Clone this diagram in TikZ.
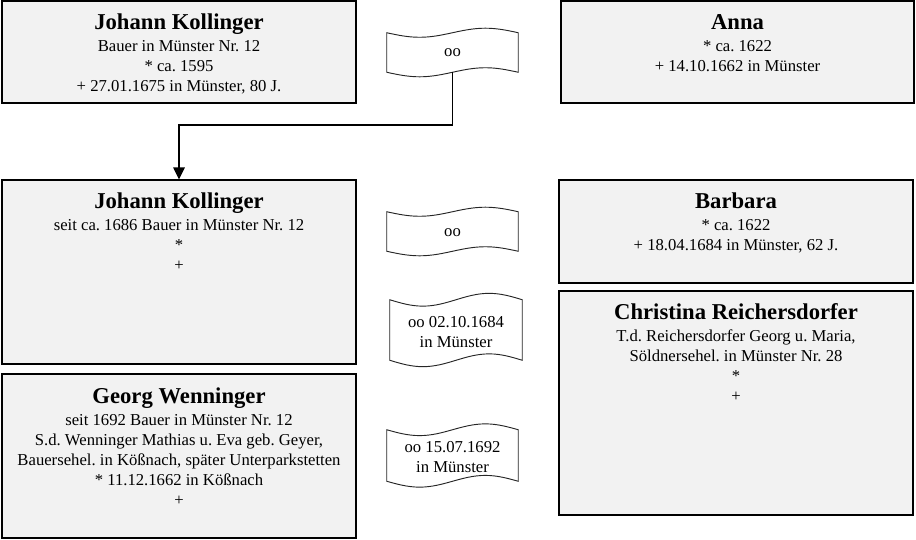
\documentclass[tikz,border=0pt]{standalone}
\usepackage{fontspec}
\setmainfont{Liberation Serif}
\usetikzlibrary{fit,calc,arrows.meta}
\definecolor{boxfill}{HTML}{F2F2F2}
\tikzset{
  box/.style={draw=black, fill=boxfill, line width=0.8pt, inner sep=0pt},
  ptext/.style={align=center, inner sep=0pt, font=\frenchspacing\fontsize{12.5}{15}\selectfont},
  tapebox/.style={inner sep=0pt},
  wtext/.style={inner sep=0pt, align=center, font=\frenchspacing\fontsize{12.5}{15}\selectfont},
  tapeline/.style={draw=black!85, line width=0.7pt, fill=white},
  conn/.style={draw=black, line width=1.2pt, -{Triangle[length=9pt,width=8.5pt]}}
}
\newcommand\pname[1]{{\fontsize{17}{20}\selectfont\bfseries\rule{0pt}{12pt}#1}}
\newcommand\tapedraw[2]{%
  \path[tapeline] (#1.north west)
    sin ($(#1.north west)!0.25!(#1.north east)+(0,-#2)$)
    cos (#1.north)
    sin ($(#1.north west)!0.75!(#1.north east)+(0,#2)$)
    cos (#1.north east)
    -- (#1.south east)
    sin ($(#1.south west)!0.75!(#1.south east)+(0,#2)$)
    cos (#1.south)
    sin ($(#1.south west)!0.25!(#1.south east)+(0,-#2)$)
    cos (#1.south west)
    -- cycle;}
\begin{document}
\begin{tikzpicture}[x=0.75pt,y=-0.75pt]
\useasboundingbox (0,0) rectangle (916,539);
% person boxes
\node[box, fit={(2,1)(356,103)}] (b1) {};
\node[box, fit={(561,1)(914,103)}] (b2) {};
\node[box, fit={(2,180)(356,364)}] (b3) {};
\node[box, fit={(559,180)(913,283)}] (b4) {};
\node[box, fit={(559,291)(913,515)}] (b5) {};
\node[box, fit={(2,374)(356,538)}] (b6) {};
% texts
\node[ptext, anchor=north] (t1) at ([yshift=-9.3pt]b1.north)
  {\pname{Johann Kollinger}\\[2pt] Bauer in Münster Nr. 12\\ * ca. 1595\\ + 27.01.1675 in Münster, 80 J.};
\node[ptext, anchor=north] (t2) at ([yshift=-9.3pt]b2.north)
  {\pname{Anna}\\[2pt] * ca. 1622\\ + 14.10.1662 in Münster};
\node[ptext, anchor=north] (t3) at ([yshift=-9.3pt]b3.north)
  {\pname{Johann Kollinger}\\[2pt] seit ca. 1686 Bauer in Münster Nr. 12\\ *\\ +};
\node[ptext, anchor=north] (t4) at ([yshift=-9.3pt]b4.north)
  {\pname{Barbara}\\[2pt] * ca. 1622\\ + 18.04.1684 in Münster, 62 J.};
\node[ptext, anchor=north] (t5) at ([yshift=-9.3pt]b5.north)
  {\pname{Christina Reichersdorfer}\\[2pt] T.d. Reichersdorfer Georg u. Maria,\\ Söldnersehel. in Münster Nr. 28\\ *\\ +};
\node[ptext, anchor=north] (t6) at ([yshift=-10pt]b6.north)
  {\pname{Georg Wenninger}\\[1.5pt] seit 1692 Bauer in Münster Nr. 12\\ S.d. Wenninger Mathias u. Eva geb. Geyer,\\ Bauersehel. in Kößnach, später Unterparkstetten\\ * 11.12.1662 in Kößnach\\ +};
% marriage tapes
\node[tapebox, fit={(387,33)(518,72)}] (w1) {};
\node[tapebox, fit={(387,212)(518,251)}] (w2) {};
\node[tapebox, fit={(390,300)(522,360)}] (w3) {};
\node[tapebox, fit={(387,430)(518,481)}] (w4) {};
\tapedraw{w1}{3.4pt}
\tapedraw{w2}{3.4pt}
\tapedraw{w3}{4.8pt}
\tapedraw{w4}{4.4pt}
\node[wtext] (m1) at (w1.center) {oo};
\node[wtext] (m2) at ([yshift=-1pt]w2.center) {oo};
\node[wtext] (m3) at ([yshift=-1.5pt]w3.center) {oo 02.10.1684\\ in Münster};
\node[wtext] (m4) at ([yshift=-1.5pt]w4.center) {oo 15.07.1692\\ in Münster};
% connector
\coordinate (bend) at (453,125);
\draw[conn] (w1.south) -- (w1.south |- bend) -| (b3.north);
\end{tikzpicture}
\end{document}
